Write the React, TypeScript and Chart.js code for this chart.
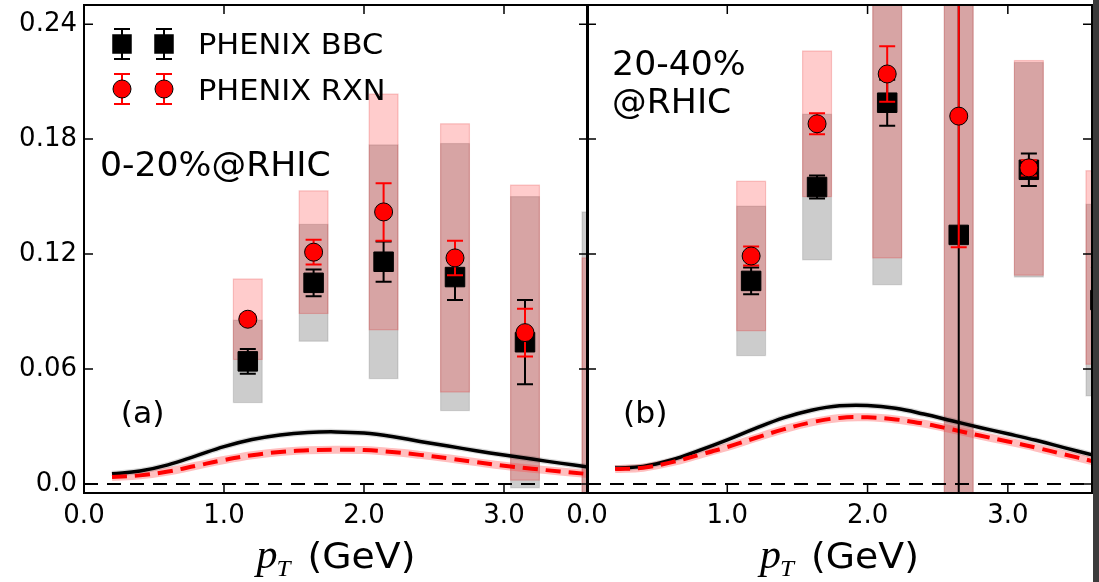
import React, { useEffect, useRef } from "react";
import { Chart, registerables } from "chart.js";

Chart.register(...registerables);

// transverse-momentum bin centres (GeV)
const ptBins = [1.17, 1.64, 2.14, 2.65, 3.15, 3.66];

// 0-20% centrality: PHENIX BBC / RXN event planes
const bbc020 = [0.064, 0.105, 0.116, 0.108, 0.074, 0.06];
const bbc020Stat = [0.0065, 0.007, 0.0105, 0.012, 0.022, 0.03];
const bbc020Sys = [0.0215, 0.0305, 0.061, 0.0697, 0.076, 0.082];
const rxn020 = [0.086, 0.121, 0.142, 0.118, 0.079, 0.04];
const rxn020Stat = [0.0025, 0.0065, 0.015, 0.009, 0.0125, 0.03];
const rxn020Sys = [0.021, 0.032, 0.0615, 0.07, 0.077, 0.078];

// 20-40% centrality
const bbc2040 = [0.106, 0.155, 0.199, 0.13, 0.164, 0.096];
const bbc2040Stat = [0.007, 0.006, 0.012, 0.15, 0.0085, 0.02];
const bbc2040Sys = [0.039, 0.038, 0.095, 0.2, 0.056, 0.05];
const rxn2040 = [0.119, 0.188, 0.214, 0.192, 0.165, 0.113];
const rxn2040Stat = [0.005, 0.0055, 0.0145, 0.0684, 0.004, 0.02];
const rxn2040Sys = [0.039, 0.038, 0.096, 0.25, 0.056, 0.0505];

// model curves
const curvePt = [0.2, 0.4, 0.6, 0.8, 1.0, 1.2, 1.4, 1.6, 1.8, 2.0, 2.2, 2.4, 2.6, 2.8, 3.0, 3.2, 3.4, 3.6];
const solid020 = [0.0053, 0.0068, 0.01, 0.0147, 0.0195, 0.0232, 0.0256, 0.0269, 0.0272, 0.0266, 0.0248, 0.0222, 0.0198, 0.0174, 0.0151, 0.013, 0.0109, 0.0089];
const dashed020 = [0.0037, 0.0045, 0.0065, 0.0095, 0.0125, 0.015, 0.0167, 0.0176, 0.0179, 0.0177, 0.0167, 0.0152, 0.0134, 0.0114, 0.0095, 0.008, 0.0065, 0.0052];
const solid2040 = [0.0083, 0.0092, 0.0125, 0.0175, 0.023, 0.029, 0.0345, 0.0385, 0.0408, 0.041, 0.0395, 0.0365, 0.033, 0.0295, 0.0262, 0.0228, 0.019, 0.0152];
const dashed2040 = [0.0078, 0.0085, 0.0113, 0.0152, 0.0193, 0.024, 0.0285, 0.0322, 0.0345, 0.0348, 0.0337, 0.0315, 0.0285, 0.0253, 0.0222, 0.019, 0.0155, 0.012];

// zero reference line
const zeroLineX = [0, 3.6];
const zeroLineY = [0, 0];

// axes
const xTicks = [0, 1, 2, 3];
const xTickLabels = ["0.0", "1.0", "2.0", "3.0"];
const yTicks = [0, 0.06, 0.12, 0.18, 0.24];
const yTickLabels = ["0.0", "0.06", "0.12", "0.18", "0.24"];
const legendLabels = ["PHENIX BBC", "PHENIX RXN"];

const SANS = '"DejaVu Sans", sans-serif';
const BOX_HALF = 0.103;
const CAP = 8;
const TICK_LEN = 9;
const TEXT_SX = 1.05; // slightly wide lettering

type Spec = {
  bbc: number[];
  bbcStat: number[];
  bbcSys: number[];
  rxn: number[];
  rxnStat: number[];
  rxnSys: number[];
  solid: number[];
  dashed: number[];
  yLabels: boolean;
  yAxisWidth: number;
  padRight: number;
  annotate: (chart: any) => void;
};

function pts(xs: number[], ys: number[]) {
  return xs.map((x, i) => ({ x, y: ys[i] }));
}

function wideText(ctx: CanvasRenderingContext2D, text: string, x: number, y: number) {
  ctx.save();
  ctx.translate(x, y);
  ctx.scale(TEXT_SX, 1);
  ctx.fillText(text, 0, 0);
  ctx.restore();
}

function drawBoxes(ctx: CanvasRenderingContext2D, xs: any, ys: any, vals: number[], sys: number[], fill: string, edge: string) {
  ctx.fillStyle = fill;
  ctx.strokeStyle = edge;
  ctx.lineWidth = 1.2;
  ptBins.forEach((p, i) => {
    const x0 = xs.getPixelForValue(p - BOX_HALF);
    const x1 = xs.getPixelForValue(p + BOX_HALF);
    const y0 = ys.getPixelForValue(vals[i] + sys[i]);
    const y1 = ys.getPixelForValue(vals[i] - sys[i]);
    ctx.fillRect(x0, y0, x1 - x0, y1 - y0);
    ctx.strokeRect(x0, y0, x1 - x0, y1 - y0);
  });
}

function errorBar(ctx: CanvasRenderingContext2D, px: number, top: number, bot: number, color: string) {
  ctx.strokeStyle = color;
  ctx.lineWidth = 2;
  ctx.beginPath();
  ctx.moveTo(px, top);
  ctx.lineTo(px, bot);
  ctx.moveTo(px - CAP, top);
  ctx.lineTo(px + CAP, top);
  ctx.moveTo(px - CAP, bot);
  ctx.lineTo(px + CAP, bot);
  ctx.stroke();
}

function drawErrorBars(ctx: CanvasRenderingContext2D, xs: any, ys: any, vals: number[], errs: number[], color: string) {
  ptBins.forEach((p, i) => {
    const px = xs.getPixelForValue(p);
    errorBar(ctx, px, ys.getPixelForValue(vals[i] + errs[i]), ys.getPixelForValue(vals[i] - errs[i]), color);
  });
}

function drawSquare(ctx: CanvasRenderingContext2D, x: number, y: number) {
  ctx.fillStyle = "#000";
  ctx.fillRect(x - 9.75, y - 9.75, 19.5, 19.5);
}

function drawCircle(ctx: CanvasRenderingContext2D, x: number, y: number) {
  ctx.beginPath();
  ctx.arc(x, y, 9, 0, Math.PI * 2);
  ctx.fillStyle = "#ff0000";
  ctx.fill();
  ctx.strokeStyle = "#000";
  ctx.lineWidth = 1;
  ctx.stroke();
}

function drawTitle(chart: any) {
  const { ctx, chartArea: a } = chart;
  const cx = (a.left + a.right) / 2;
  const base = a.bottom + 75;
  ctx.save();
  ctx.fillStyle = "#000";
  ctx.textBaseline = "alphabetic";
  ctx.textAlign = "left";
  const fP = 'italic 40px "Liberation Serif", serif';
  const fT = 'italic 24px "Liberation Serif", serif';
  const fG = `36px ${SANS}`;
  ctx.font = fP;
  const wP = ctx.measureText("p").width * TEXT_SX;
  ctx.font = fT;
  const wT = ctx.measureText("T").width * TEXT_SX;
  ctx.font = fG;
  const wG = ctx.measureText("(GeV)").width * TEXT_SX;
  const gap = 16;
  const total = wP + wT + gap + wG;
  let x = cx - total / 2;
  ctx.font = fP;
  wideText(ctx, "p", x, base);
  x += wP;
  ctx.font = fT;
  wideText(ctx, "T", x - 1, base + 8);
  x += wT + gap;
  ctx.font = fG;
  wideText(ctx, "(GeV)", x, base);
  ctx.restore();
}

function drawFrame(chart: any) {
  const { ctx, chartArea: a, scales } = chart;
  const xs = scales.x;
  const ys = scales.y;
  ctx.save();
  ctx.strokeStyle = "#000";
  ctx.lineWidth = 1.5;
  ctx.beginPath();
  xTicks.forEach((v) => {
    const px = xs.getPixelForValue(v);
    ctx.moveTo(px, a.bottom);
    ctx.lineTo(px, a.bottom - TICK_LEN);
    ctx.moveTo(px, a.top);
    ctx.lineTo(px, a.top + TICK_LEN);
  });
  yTicks.forEach((v) => {
    const py = ys.getPixelForValue(v);
    ctx.moveTo(a.left, py);
    ctx.lineTo(a.left + TICK_LEN, py);
    ctx.moveTo(a.right, py);
    ctx.lineTo(a.right - TICK_LEN, py);
  });
  ctx.stroke();
  ctx.lineWidth = 2;
  ctx.strokeRect(a.left, a.top, a.right - a.left, a.bottom - a.top);
  ctx.restore();
}

function makePlugin(spec: Spec) {
  return {
    id: "panelDecor",
    beforeDatasetsDraw(chart: any) {
      const { ctx, chartArea: a, scales } = chart;
      ctx.save();
      ctx.beginPath();
      ctx.rect(a.left, a.top, a.right - a.left, a.bottom - a.top);
      ctx.clip();
      drawBoxes(ctx, scales.x, scales.y, spec.bbc, spec.bbcSys, "rgba(0,0,0,0.2)", "rgba(0,0,0,0.12)");
      drawBoxes(ctx, scales.x, scales.y, spec.rxn, spec.rxnSys, "rgba(255,0,0,0.2)", "rgba(220,0,0,0.2)");
      ctx.restore();
    },
    beforeDatasetDraw(chart: any, args: any) {
      const ds = chart.data.datasets[args.index];
      if (ds.label !== legendLabels[0] && ds.label !== legendLabels[1]) return;
      const { ctx, chartArea: a, scales } = chart;
      ctx.save();
      ctx.beginPath();
      ctx.rect(a.left, a.top, a.right - a.left, a.bottom - a.top);
      ctx.clip();
      if (ds.label === legendLabels[0]) drawErrorBars(ctx, scales.x, scales.y, spec.bbc, spec.bbcStat, "#000");
      else drawErrorBars(ctx, scales.x, scales.y, spec.rxn, spec.rxnStat, "#ff0000");
      ctx.restore();
    },
    afterDraw(chart: any) {
      drawFrame(chart);
      spec.annotate(chart);
      drawTitle(chart);
    },
  };
}

function textAt(chart: any, text: string, xv: number, yv: number, size: number) {
  const { ctx, scales } = chart;
  ctx.save();
  ctx.fillStyle = "#000";
  ctx.font = `${size}px ${SANS}`;
  ctx.textAlign = "left";
  ctx.textBaseline = "alphabetic";
  wideText(ctx, text, scales.x.getPixelForValue(xv), scales.y.getPixelForValue(yv));
  ctx.restore();
}

function annotateLeft(chart: any) {
  const { ctx, chartArea: a } = chart;
  // legend: two markers per entry with their error bars
  const mx = [a.left + 38, a.left + 80];
  const rowBBC = a.top + 39;
  const rowRXN = a.top + 84;
  ctx.save();
  mx.forEach((x) => {
    errorBar(ctx, x, rowBBC - 15, rowBBC + 15, "#000");
    drawSquare(ctx, x, rowBBC);
    errorBar(ctx, x, rowRXN - 15, rowRXN + 15, "#ff0000");
    drawCircle(ctx, x, rowRXN);
  });
  ctx.fillStyle = "#000";
  ctx.font = `29px ${SANS}`;
  ctx.textAlign = "left";
  ctx.textBaseline = "alphabetic";
  wideText(ctx, legendLabels[0], a.left + 114, a.top + 49);
  wideText(ctx, legendLabels[1], a.left + 114, a.top + 95);
  ctx.restore();
  textAt(chart, "0-20%@RHIC", 0.114, 0.161, 33);
  textAt(chart, "(a)", 0.262, 0.0318, 30);
}

function annotateRight(chart: any) {
  textAt(chart, "20-40%", 0.179, 0.2134, 33);
  textAt(chart, "@RHIC", 0.179, 0.1935, 33);
  textAt(chart, "(b)", 0.257, 0.0318, 30);
}

function buildConfig(spec: Spec): any {
  const tickFont = { family: "DejaVu Sans", size: 26 };
  return {
    type: "scatter",
    data: {
      datasets: [
        {
          label: "zero",
          data: pts(zeroLineX, zeroLineY),
          showLine: true,
          borderColor: "#000",
          borderWidth: 2,
          borderDash: [14, 9],
          pointRadius: 0,
          order: 10,
          clip: 0,
        },
        {
          label: "solid band",
          data: pts(curvePt, spec.solid),
          showLine: true,
          tension: 0.4,
          borderColor: "rgba(0,0,0,0.15)",
          borderWidth: 6,
          pointRadius: 0,
          order: 9,
          clip: 0,
        },
        {
          label: "dashed band",
          data: pts(curvePt, spec.dashed),
          showLine: true,
          tension: 0.4,
          borderColor: "rgba(255,60,60,0.33)",
          borderWidth: 8,
          pointRadius: 0,
          order: 9,
          clip: 0,
        },
        {
          label: "solid",
          data: pts(curvePt, spec.solid),
          showLine: true,
          tension: 0.4,
          borderColor: "#000",
          borderWidth: 3.5,
          pointRadius: 0,
          order: 8,
          clip: 0,
        },
        {
          label: "dashed",
          data: pts(curvePt, spec.dashed),
          showLine: true,
          tension: 0.4,
          borderColor: "#ff0000",
          borderWidth: 4,
          borderDash: [15, 8],
          pointRadius: 0,
          order: 7,
          clip: 0,
        },
        {
          label: legendLabels[0],
          data: pts(ptBins, spec.bbc),
          pointStyle: "rect",
          pointRadius: 13.8,
          backgroundColor: "#000",
          borderColor: "#000",
          borderWidth: 1,
          order: 2,
          clip: 0,
        },
        {
          label: legendLabels[1],
          data: pts(ptBins, spec.rxn),
          pointStyle: "circle",
          pointRadius: 9,
          backgroundColor: "#ff0000",
          borderColor: "#000",
          borderWidth: 1,
          order: 1,
          clip: 0,
        },
      ],
    },
    options: {
      responsive: false,
      animation: false,
      events: [],
      layout: { autoPadding: false, padding: { left: 0, top: 5, right: spec.padRight, bottom: 0 } },
      plugins: { legend: { display: false }, tooltip: { enabled: false } },
      scales: {
        x: {
          type: "linear",
          min: 0,
          max: 3.6,
          afterBuildTicks: (s: any) => {
            s.ticks = xTicks.map((v) => ({ value: v }));
          },
          afterFit: (s: any) => {
            s.height = 89;
            s.paddingLeft = 0;
            s.paddingRight = 0;
          },
          ticks: {
            callback: (v: any) => xTickLabels[xTicks.indexOf(Number(v))] ?? "",
            font: tickFont,
            color: "#000",
            padding: 8,
            maxRotation: 0,
            autoSkip: false,
          },
          grid: { display: false, drawTicks: false, tickLength: 0 },
          border: { display: false },
        },
        y: {
          type: "linear",
          min: -0.0047,
          max: 0.25,
          afterBuildTicks: (s: any) => {
            s.ticks = yTicks.map((v) => ({ value: v }));
          },
          afterFit: (s: any) => {
            s.width = spec.yAxisWidth;
            s.paddingTop = 0;
            s.paddingBottom = 0;
          },
          ticks: {
            display: spec.yLabels,
            callback: (v: any) => yTickLabels[yTicks.indexOf(Number(v))] ?? "",
            font: tickFont,
            color: "#000",
            padding: 7,
            autoSkip: false,
          },
          grid: { display: false, drawTicks: false, tickLength: 0 },
          border: { display: false },
        },
      },
    },
    plugins: [makePlugin(spec)],
  };
}

const leftSpec: Spec = {
  bbc: bbc020,
  bbcStat: bbc020Stat,
  bbcSys: bbc020Sys,
  rxn: rxn020,
  rxnStat: rxn020Stat,
  rxnSys: rxn020Sys,
  solid: solid020,
  dashed: dashed020,
  yLabels: true,
  yAxisWidth: 84,
  padRight: 12,
  annotate: annotateLeft,
};

const rightSpec: Spec = {
  bbc: bbc2040,
  bbcStat: bbc2040Stat,
  bbcSys: bbc2040Sys,
  rxn: rxn2040,
  rxnStat: rxn2040Stat,
  rxnSys: rxn2040Sys,
  solid: solid2040,
  dashed: dashed2040,
  yLabels: false,
  yAxisWidth: 27,
  padRight: 7,
  annotate: annotateRight,
};

export default function App() {
  const leftRef = useRef<HTMLCanvasElement>(null);
  const rightRef = useRef<HTMLCanvasElement>(null);

  useEffect(() => {
    const left = new Chart(leftRef.current as HTMLCanvasElement, buildConfig(leftSpec));
    const right = new Chart(rightRef.current as HTMLCanvasElement, buildConfig(rightSpec));
    return () => {
      left.destroy();
      right.destroy();
    };
  }, []);

  return (
    <div
      style={{
        position: "absolute",
        left: 0,
        top: 0,
        width: 1099,
        height: 582,
        background: "#fff",
        overflow: "hidden",
      }}
    >
      <canvas
        ref={leftRef}
        width={600}
        height={582}
        style={{ position: "absolute", left: 0, top: 0, width: 600, height: 582 }}
      />
      <canvas
        ref={rightRef}
        width={539}
        height={582}
        style={{ position: "absolute", left: 560, top: 0, width: 539, height: 582 }}
      />
      <div style={{ position: "absolute", left: 1093, top: 0, width: 6, height: 582, background: "#3b3b3b" }} />
    </div>
  );
}
